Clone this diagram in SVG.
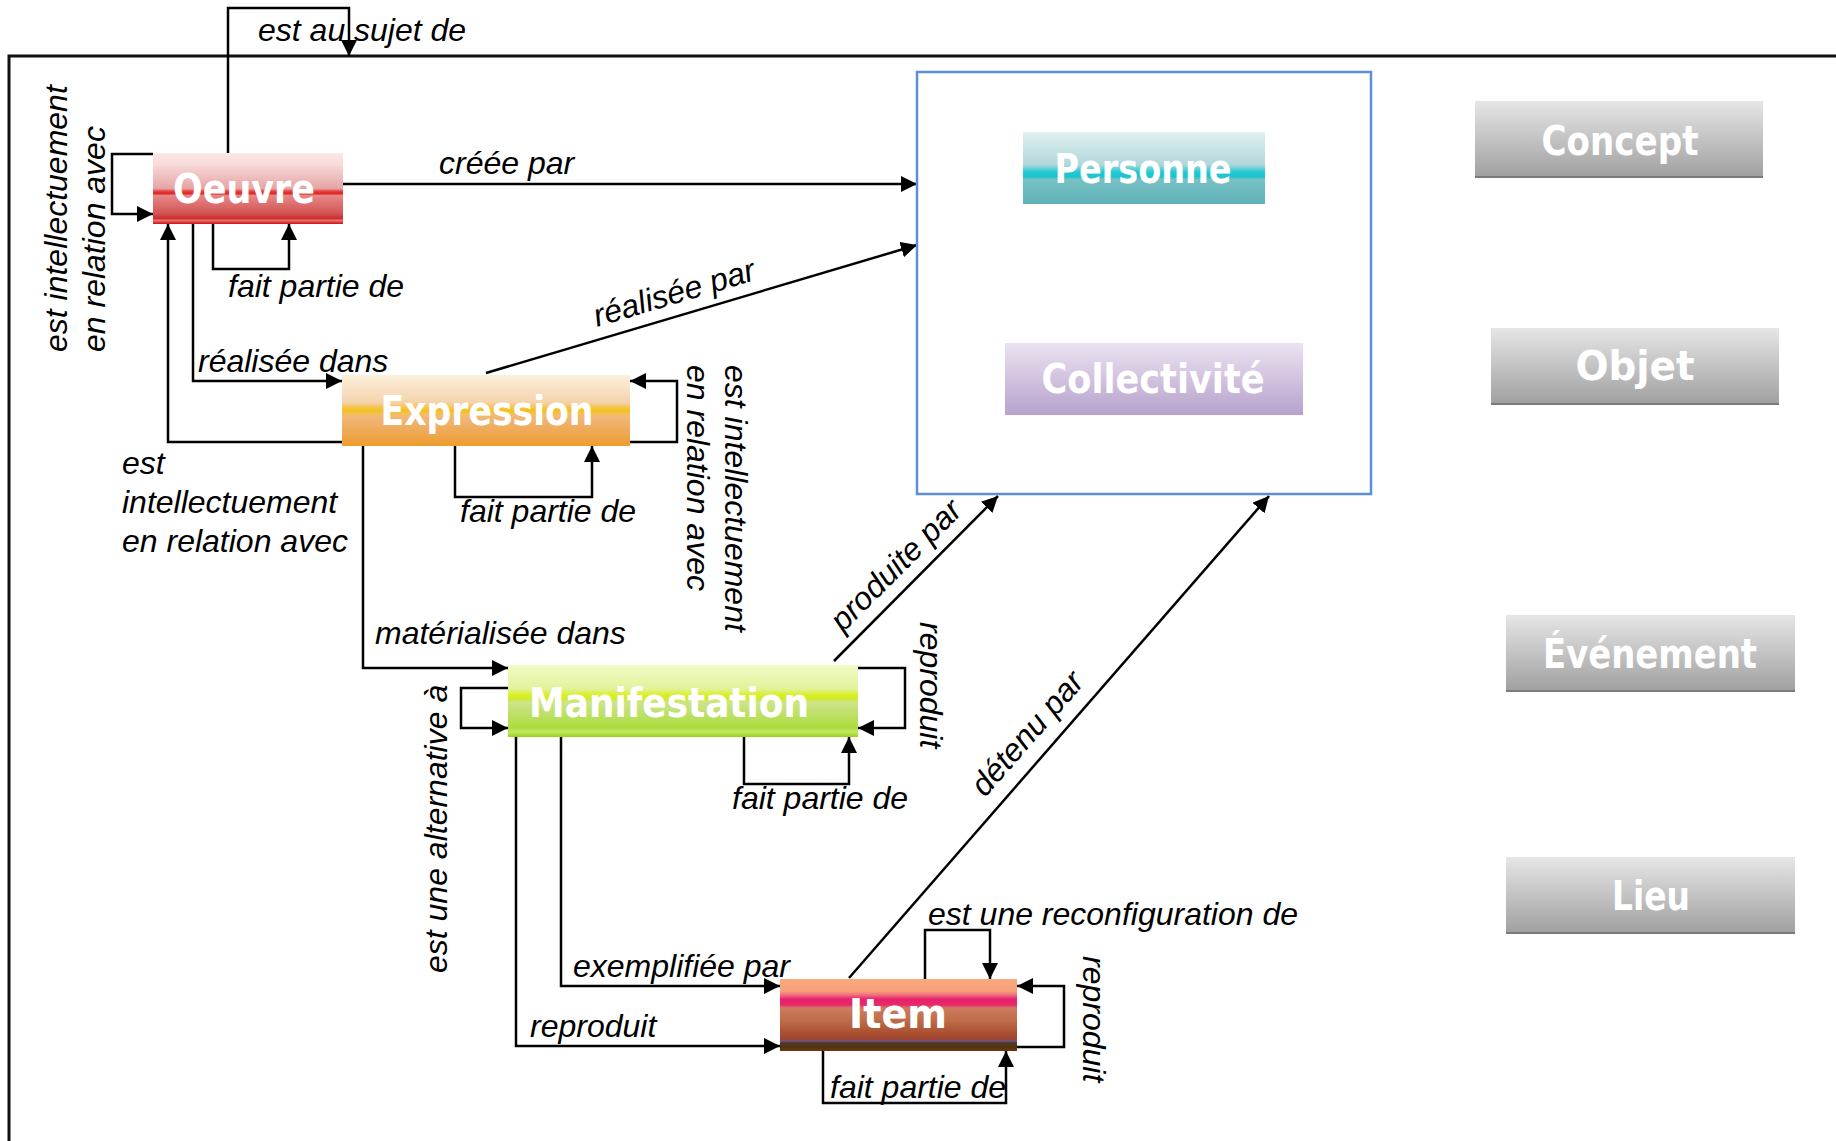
<svg xmlns="http://www.w3.org/2000/svg" width="1836" height="1141" viewBox="0 0 1836 1141">
<style>
.ln{fill:none;stroke:#000;stroke-width:2.5}
.arr{marker-end:url(#ah)}
.lbl{font-family:"Liberation Sans",Arial,sans-serif;font-style:italic;font-size:32px;fill:#000}
.nm{font-family:"DejaVu Sans","Liberation Sans",sans-serif;font-weight:bold;font-size:40px;fill:#fff;text-anchor:middle}
.gb{fill:url(#gGray)}
.gbl{stroke:#7a7a7a;stroke-width:2}
</style>
<defs>
<marker id="ah" markerUnits="userSpaceOnUse" markerWidth="18" markerHeight="18" refX="16" refY="8" orient="auto">
<path d="M0,0 L16,8 L0,16 z" fill="#000"/>
</marker>
<linearGradient id="gOeuvre" x1="0" y1="0" x2="0" y2="1">
<stop offset="0" stop-color="#fde6e6"/><stop offset="0.15" stop-color="#f8dcdc"/><stop offset="0.5" stop-color="#e6a4a4"/>
<stop offset="0.54" stop-color="#e44040"/><stop offset="0.57" stop-color="#e02424"/><stop offset="0.6" stop-color="#e68888"/>
<stop offset="0.85" stop-color="#d45454"/><stop offset="0.92" stop-color="#cc2c2c"/><stop offset="0.95" stop-color="#e07474"/><stop offset="1" stop-color="#e00808"/>
</linearGradient>
<linearGradient id="gExpr" x1="0" y1="0" x2="0" y2="1">
<stop offset="0" stop-color="#fcf0dc"/><stop offset="0.38" stop-color="#f5d4ae"/><stop offset="0.45" stop-color="#f4c65a"/>
<stop offset="0.5" stop-color="#f5c018"/><stop offset="0.55" stop-color="#f2c060"/><stop offset="0.6" stop-color="#f0b678"/>
<stop offset="0.9" stop-color="#eea242"/><stop offset="1" stop-color="#f09e2a"/>
</linearGradient>
<linearGradient id="gManif" x1="0" y1="0" x2="0" y2="1">
<stop offset="0" stop-color="#f0fcc6"/><stop offset="0.33" stop-color="#e2f29a"/><stop offset="0.42" stop-color="#d8f020"/>
<stop offset="0.47" stop-color="#d0ea30"/><stop offset="0.52" stop-color="#cce48a"/><stop offset="0.88" stop-color="#acdc3c"/>
<stop offset="0.93" stop-color="#c0e868"/><stop offset="1" stop-color="#98d010"/>
</linearGradient>
<linearGradient id="gItem" x1="0" y1="0" x2="0" y2="1">
<stop offset="0" stop-color="#f8aa7c"/><stop offset="0.17" stop-color="#f8a07a"/><stop offset="0.22" stop-color="#f07080"/>
<stop offset="0.28" stop-color="#e6226a"/><stop offset="0.36" stop-color="#e8286c"/><stop offset="0.4" stop-color="#d07a60"/>
<stop offset="0.55" stop-color="#c0704c"/><stop offset="0.83" stop-color="#a24428"/><stop offset="0.86" stop-color="#705090"/>
<stop offset="0.89" stop-color="#4e3a18"/><stop offset="0.95" stop-color="#503416"/><stop offset="1" stop-color="#7c3204"/>
</linearGradient>
<linearGradient id="gPers" x1="0" y1="0" x2="0" y2="1">
<stop offset="0" stop-color="#dff0f0"/><stop offset="0.45" stop-color="#b2d8da"/><stop offset="0.56" stop-color="#20c8d2"/>
<stop offset="0.62" stop-color="#1cc4cc"/><stop offset="0.66" stop-color="#78c0c4"/><stop offset="1" stop-color="#5fb2b6"/>
</linearGradient>
<linearGradient id="gColl" x1="0" y1="0" x2="0" y2="1">
<stop offset="0" stop-color="#ebe3f1"/><stop offset="1" stop-color="#b7a2cc"/>
</linearGradient>
<linearGradient id="gGray" x1="0" y1="0" x2="0" y2="1">
<stop offset="0" stop-color="#e6e6e6"/><stop offset="1" stop-color="#a0a0a0"/>
</linearGradient>
</defs>
<rect width="1836" height="1141" fill="#fff"/>
<g id="frame">
<path d="M9,1141 V56 H1836" fill="none" stroke="#111" stroke-width="3"/>
</g>
<g id="connectors">
<path class="ln arr" d="M228,153 V8 H349 V56"/>
<path class="ln arr" d="M343,184 H917"/>
<path class="ln arr" d="M153,154 H112 V214 H153"/>
<path class="ln arr" d="M213,224 V269 H289 V224"/>
<path class="ln arr" d="M193,224 V381 H342"/>
<path class="ln arr" d="M342,442 H168 V224"/>
<path class="ln arr" d="M486,373 L917,245"/>
<path class="ln arr" d="M630,442 H677 V381 H630"/>
<path class="ln arr" d="M455,446 V497 H592 V446"/>
<path class="ln arr" d="M363,446 V668 H508"/>
<path class="ln arr" d="M508,688 H461 V728 H508"/>
<path class="ln arr" d="M858,668 H905 V728 H858"/>
<path class="ln arr" d="M744,737 V784 H849 V737"/>
<path class="ln arr" d="M834,661 L998,496"/>
<path class="ln arr" d="M561,737 V986 H780"/>
<path class="ln arr" d="M516,737 V1046 H780"/>
<path class="ln arr" d="M925,979 V930 H990 V979"/>
<path class="ln arr" d="M1017,1047 H1064 V986 H1017"/>
<path class="ln arr" d="M823,1051 V1103 H1006 V1051"/>
<path class="ln arr" d="M849,978 L1269,496"/>
<text class="lbl" x="258" y="41">est au sujet de</text>
<text class="lbl" x="439" y="174">créée par</text>
<text class="lbl" transform="translate(67,352) rotate(-90)">est intellectuement</text>
<text class="lbl" transform="translate(105,352) rotate(-90)">en relation avec</text>
<text class="lbl" x="228" y="297">fait partie de</text>
<text class="lbl" x="198" y="372">réalisée dans</text>
<text class="lbl" transform="translate(597,327) rotate(-16.5)">réalisée par</text>
<text class="lbl" x="122" y="474">est</text>
<text class="lbl" x="122" y="513">intellectuement</text>
<text class="lbl" x="122" y="552">en relation avec</text>
<text class="lbl" x="460" y="522">fait partie de</text>
<text class="lbl" transform="translate(725,365) rotate(90)">est intellectuement</text>
<text class="lbl" transform="translate(687,365) rotate(90)">en relation avec</text>
<text class="lbl" x="375" y="644">matérialisée dans</text>
<text class="lbl" transform="translate(447,973) rotate(-90)">est une alternative à</text>
<text class="lbl" transform="translate(920,622) rotate(90)">reproduit</text>
<text class="lbl" x="732" y="809">fait partie de</text>
<text class="lbl" transform="translate(843,633) rotate(-45)">produite par</text>
<text class="lbl" transform="translate(985,798) rotate(-48.9)">détenu par</text>
<text class="lbl" x="573" y="977">exemplifiée par</text>
<text class="lbl" x="530" y="1037">reproduit</text>
<text class="lbl" x="928" y="925">est une reconfiguration de</text>
<text class="lbl" transform="translate(1083,956) rotate(90)">reproduit</text>
<text class="lbl" x="830" y="1098">fait partie de</text>
</g>
<g id="agents">
<rect x="917" y="72" width="454" height="422" fill="none" stroke="#5b8fd8" stroke-width="2.5"/>
</g>
<g id="oeuvre">
<rect x="153" y="153" width="190" height="71" fill="url(#gOeuvre)"/>
<text class="nm" x="244" y="203" textLength="142" lengthAdjust="spacingAndGlyphs">Oeuvre</text>
</g>
<g id="expression">
<rect x="342" y="375" width="288" height="71" fill="url(#gExpr)"/>
<text class="nm" x="487" y="425" textLength="213" lengthAdjust="spacingAndGlyphs">Expression</text>
</g>
<g id="manifestation">
<rect x="508" y="665" width="350" height="72" fill="url(#gManif)"/>
<text class="nm" x="669" y="717" textLength="280" lengthAdjust="spacingAndGlyphs">Manifestation</text>
</g>
<g id="item">
<rect x="780" y="979" width="237" height="72" fill="url(#gItem)"/>
<text class="nm" x="898" y="1028" textLength="98" lengthAdjust="spacingAndGlyphs">Item</text>
</g>
<g id="personne">
<rect x="1023" y="132" width="242" height="72" fill="url(#gPers)"/>
<text class="nm" x="1143" y="183" textLength="177" lengthAdjust="spacingAndGlyphs">Personne</text>
</g>
<g id="collectivite">
<rect x="1005" y="343" width="298" height="72" fill="url(#gColl)"/>
<text class="nm" x="1153" y="393" textLength="223" lengthAdjust="spacingAndGlyphs">Collectivité</text>
</g>
<g id="concept">
<rect class="gb" x="1475" y="101" width="288" height="76"/>
<line class="gbl" x1="1475" y1="177" x2="1763" y2="177"/>
<text class="nm" x="1620" y="155" textLength="157" lengthAdjust="spacingAndGlyphs">Concept</text>
</g>
<g id="objet">
<rect class="gb" x="1491" y="328" width="288" height="76"/>
<line class="gbl" x1="1491" y1="404" x2="1779" y2="404"/>
<text class="nm" x="1635" y="380" textLength="119" lengthAdjust="spacingAndGlyphs">Objet</text>
</g>
<g id="evenement">
<rect class="gb" x="1506" y="615" width="289" height="76"/>
<line class="gbl" x1="1506" y1="691" x2="1795" y2="691"/>
<text class="nm" x="1650" y="668" textLength="214" lengthAdjust="spacingAndGlyphs">Événement</text>
</g>
<g id="lieu">
<rect class="gb" x="1506" y="857" width="289" height="76"/>
<line class="gbl" x1="1506" y1="933" x2="1795" y2="933"/>
<text class="nm" x="1651" y="910" textLength="78" lengthAdjust="spacingAndGlyphs">Lieu</text>
</g>
</svg>
